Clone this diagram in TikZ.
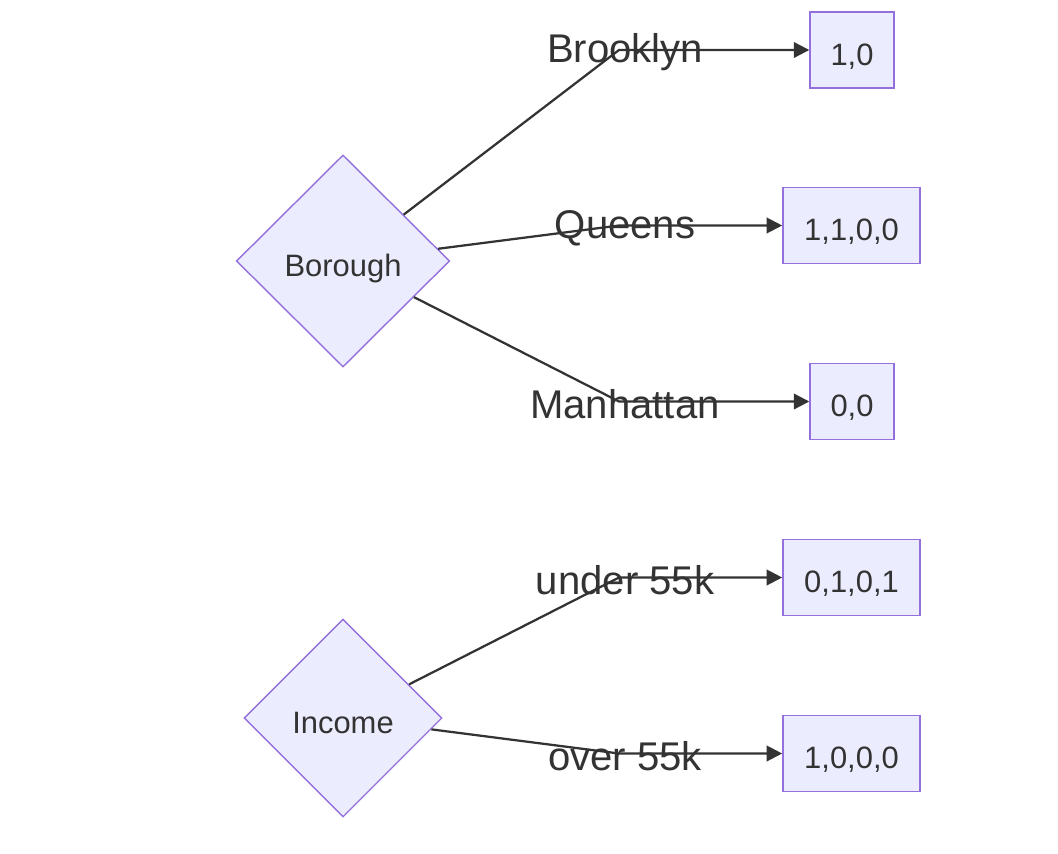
\documentclass[tikz,border=0pt]{standalone}
\usepackage{fontspec}
\setmainfont{Liberation Sans}
\usepackage{tikz}
\usetikzlibrary{arrows.meta,shapes.geometric}
\definecolor{mmdFill}{HTML}{ECECFF}
\definecolor{mmdEdge}{HTML}{9370DB}
\definecolor{mmdInk}{HTML}{333333}
\tikzset{
  choice/.style={diamond,draw=mmdEdge,fill=mmdFill,line width=1pt,aspect=1,
    inner sep=0pt,text=mmdInk,text height=22pt,text depth=0pt,
    font=\fontsize{22}{26}\selectfont},
  codebox/.style={rectangle,draw=mmdEdge,fill=mmdFill,line width=1pt,
    minimum width=2.1cm,minimum height=1.9cm,text=mmdInk,text height=22pt,text depth=0pt,
    font=\fontsize{22}{26}\selectfont},
  codewide/.style={codebox,minimum width=3.43cm},
  edgelabel/.style={text=mmdInk,inner sep=0pt,font=\fontsize{28.5}{33}\selectfont},
  link/.style={draw=mmdInk,line width=1.6pt},
  arrow/.style={link,-{Triangle[length=11pt,width=11pt]}}
}
\begin{document}
\begin{tikzpicture}[x=0.025cm,y=-0.025cm]
  \useasboundingbox (0,0) rectangle (1058,854);
  % decision nodes
  \node[choice, minimum width=5.33cm, minimum height=5.3cm] (boro) at (343,261) {Borough};
  \node[choice, minimum width=4.95cm, minimum height=4.95cm] (inc) at (343,718) {Income};
  % encodings
  \node[codebox] (c1) at (852,50) {1,0};
  \node[codewide] (c2) at (851.5,225.5) {1,1,0,0};
  \node[codebox] (c3) at (852,401.5) {0,0};
  \node[codewide] (c4) at (851.5,577.5) {0,1,0,1};
  \node[codewide] (c5) at (851.5,753.5) {1,0,0,0};
  % labels
  \node[edgelabel] (l1) at (625,52) {Brooklyn};
  \node[edgelabel] (l2) at (625,228) {Queens};
  \node[edgelabel] (l3) at (625,404) {Manhattan};
  \node[edgelabel] (l4) at (625,580) {under 55k};
  \node[edgelabel] (l5) at (625,756) {over 55k};
  \coordinate (k1) at (619,50);
  \coordinate (k2) at (619,225.5);
  \coordinate (k3) at (619,401.5);
  \coordinate (k4) at (619,577.5);
  \coordinate (k5) at (619,753.5);
  \draw[arrow] (boro) -- (k1) -- (c1);
  \draw[arrow] (boro) -- (k2) -- (c2);
  \draw[arrow] (boro) -- (k3) -- (c3);
  \draw[arrow] (inc) -- (k4) -- (c4);
  \draw[arrow] (inc) -- (k5) -- (c5);
\end{tikzpicture}
\end{document}
